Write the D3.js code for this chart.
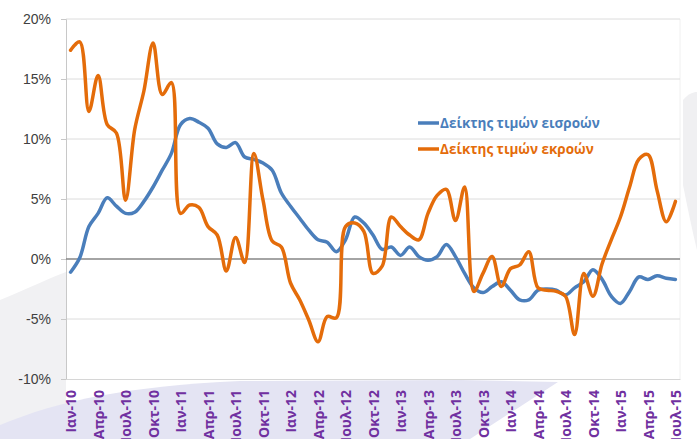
<!DOCTYPE html>
<html>
<head>
<meta charset="utf-8">
<script src="https://cdn.jsdelivr.net/npm/d3@7"></script>
<style>
  html, body { margin: 0; padding: 0; background: #fff; }
  svg { display: block; }
</style>
</head>
<body>
<svg></svg>
<script>
// months shown on the category axis (Jan 2010 .. Jul 2015)
const monthNames = ['Ιαν', 'Φεβ', 'Μαρ', 'Απρ', 'Μαϊ', 'Ιουν', 'Ιουλ', 'Αυγ', 'Σεπ', 'Οκτ', 'Νοε', 'Δεκ'];
const years = ['10', '11', '12', '13', '14', '15'];
const categories = [];
years.forEach(y => monthNames.forEach(m => categories.push(m + '-' + y)));
categories.splice(67); // stops at Ιουλ-15

// every third month gets a label
const tickLabels = categories.filter((d, i) => i % 3 === 0);

const yTicks = [-10, -5, 0, 5, 10, 15, 20];

const seriesNames = ['Δείκτης τιμών εισροών', 'Δείκτης τιμών εκροών'];

// input price index, % y-o-y
const inputValues = [-1.1, 0.1, 2.7, 3.8, 5.1, 4.4, 3.8, 3.9, 4.8, 6.0, 7.4, 8.8,
  11.2, 11.7, 11.4, 10.9, 9.6, 9.3, 9.7, 8.5, 8.3, 8.0, 7.4, 5.5,
  4.4, 3.4, 2.4, 1.6, 1.4, 0.6, 1.6, 3.5, 3.0, 2.0, 0.8, 1.0,
  0.3, 1.0, 0.2, -0.1, 0.2, 1.2, 0.2, -1.2, -2.4, -2.8, -2.3, -1.9,
  -2.6, -3.4, -3.4, -2.6, -2.5, -2.6, -3.0, -2.4, -1.9, -0.9, -1.7, -3.1,
  -3.7, -2.7, -1.5, -1.7, -1.4, -1.6, -1.7];

// output price index, % y-o-y
const outputValues = [17.4, 18.1, 12.3, 15.3, 11.2, 10.5, 4.9, 10.8, 14.0, 18.0, 13.7, 14.7,
  3.8, 4.5, 4.3, 2.7, 2.0, -1.0, 1.8, -0.3, 8.8, 4.9, 1.5, 1.0,
  -2.0, -3.4, -5.1, -6.9, -4.8, -4.9, 2.7, 3.0, 2.3, -1.2, -0.6, 3.5,
  2.7, 2.0, 1.6, 3.8, 5.3, 5.8, 3.2, 6.0, -2.7, -1.2, 0.2, -2.3,
  -0.8, -0.5, 0.6, -2.4, -2.6, -2.7, -3.1, -6.3, -1.2, -3.1, -0.4, 1.6,
  3.5, 6.0, 8.3, 8.7, 5.7, 3.1, 4.8];

const colors = ['#4A7EBB', '#E46C0A'];

const width = 697, height = 439;
const plot = { left: 66, right: 680, top: 19, bottom: 379 };

const svg = d3.select('svg')
  .attr('width', width)
  .attr('height', height)
  .style('font-family', 'Lato, "Open Sans", sans-serif');

// faint watermark shapes behind the chart
const bg = svg.append('g');
bg.append('path')
  .attr('d', 'M0,300 C25,290 45,280 66,272 L66,439 L0,439 Z')
  .attr('fill', '#f1f1f3');
bg.append('path')
  .attr('d', 'M0,425 C60,400 130,386 240,381 L460,380 L558,382 L470,439 L0,439 Z')
  .attr('fill', '#e4e4f3');
bg.append('path')
  .attr('d', 'M683,100 C688,94 693,92 697,92 L697,250 C692,230 686,200 683,185 Z')
  .attr('fill', '#f0f0f2');

// white plot area
svg.append('rect')
  .attr('x', plot.left).attr('y', plot.top)
  .attr('width', plot.right - plot.left).attr('height', plot.bottom - plot.top)
  .attr('fill', '#fff');
svg.append('line')
  .attr('x1', plot.right).attr('x2', plot.right)
  .attr('y1', plot.top).attr('y2', plot.bottom)
  .attr('stroke', '#f0f0f0');

const x = d3.scaleBand()
  .domain(categories)
  .range([plot.left, plot.right])
  .padding(0);

const y = d3.scaleLinear()
  .domain([-10, 20])
  .range([plot.bottom, plot.top]);

const cx = d => x(d) + x.bandwidth() / 2;

// horizontal gridlines
svg.append('g')
  .selectAll('line')
  .data(yTicks.filter(t => t !== 0 && t !== -10))
  .enter()
  .append('line')
  .attr('x1', plot.left).attr('x2', plot.right)
  .attr('y1', d => y(d)).attr('y2', d => y(d))
  .attr('stroke', '#dcdcdc')
  .attr('stroke-width', 1);

// y axis
const yAxis = svg.append('g')
  .attr('transform', `translate(${plot.left},0)`)
  .call(d3.axisLeft(y).tickValues(yTicks).tickSize(5).tickPadding(10).tickFormat(d => d + '%'));
yAxis.select('.domain').attr('stroke', '#c8c8c8');
yAxis.selectAll('.tick line').attr('stroke', '#c8c8c8');
yAxis.selectAll('text')
  .attr('fill', '#404040')
  .style('font-size', '14px');

// x axis at the bottom of the plot (labels run past the bottom edge, as in the original)
const xAxis = svg.append('g')
  .attr('transform', `translate(0,${plot.bottom})`)
  .call(d3.axisBottom(x).tickValues(tickLabels).tickSize(0).tickPadding(0));
xAxis.select('.domain').attr('stroke', '#d6d6d6');
xAxis.selectAll('text')
  .attr('fill', '#7030A0')
  .style('font-family', '"Open Sans", sans-serif')
  .style('font-size', '14px')
  .style('font-weight', 'bold')
  .attr('text-anchor', 'end')
  .attr('transform', 'translate(1,11) rotate(-90)')
  .attr('x', 0)
  .attr('y', 0)
  .attr('dy', '0.35em');

// zero line
svg.append('line')
  .attr('x1', plot.left).attr('x2', plot.right)
  .attr('y1', y(0)).attr('y2', y(0))
  .attr('stroke', '#868686')
  .attr('stroke-width', 1.5);

// series
const line = d3.line()
  .x((d, i) => cx(categories[i]))
  .y(d => y(d))
  .curve(d3.curveCatmullRom.alpha(0.5));

[inputValues, outputValues].forEach((vals, k) => {
  svg.append('path')
    .datum(vals)
    .attr('d', line)
    .attr('fill', 'none')
    .attr('stroke', colors[k])
    .attr('stroke-width', 3.5)
    .attr('stroke-linejoin', 'round')
    .attr('stroke-linecap', 'round');
});

// legend
const legend = svg.append('g')
  .selectAll('g')
  .data(seriesNames)
  .enter()
  .append('g')
  .attr('transform', (d, i) => `translate(418,${123 + i * 26})`);

legend.append('line')
  .attr('x1', 0).attr('x2', 21)
  .attr('stroke', (d, i) => colors[i])
  .attr('stroke-width', 3.5);

legend.append('text')
  .attr('x', 22)
  .attr('dy', '0.35em')
  .attr('fill', (d, i) => colors[i])
  .style('font-family', '"Open Sans", sans-serif')
  .style('font-size', '13.5px')
  .style('font-weight', 'bold')
  .text(d => d);
</script>
</body>
</html>
